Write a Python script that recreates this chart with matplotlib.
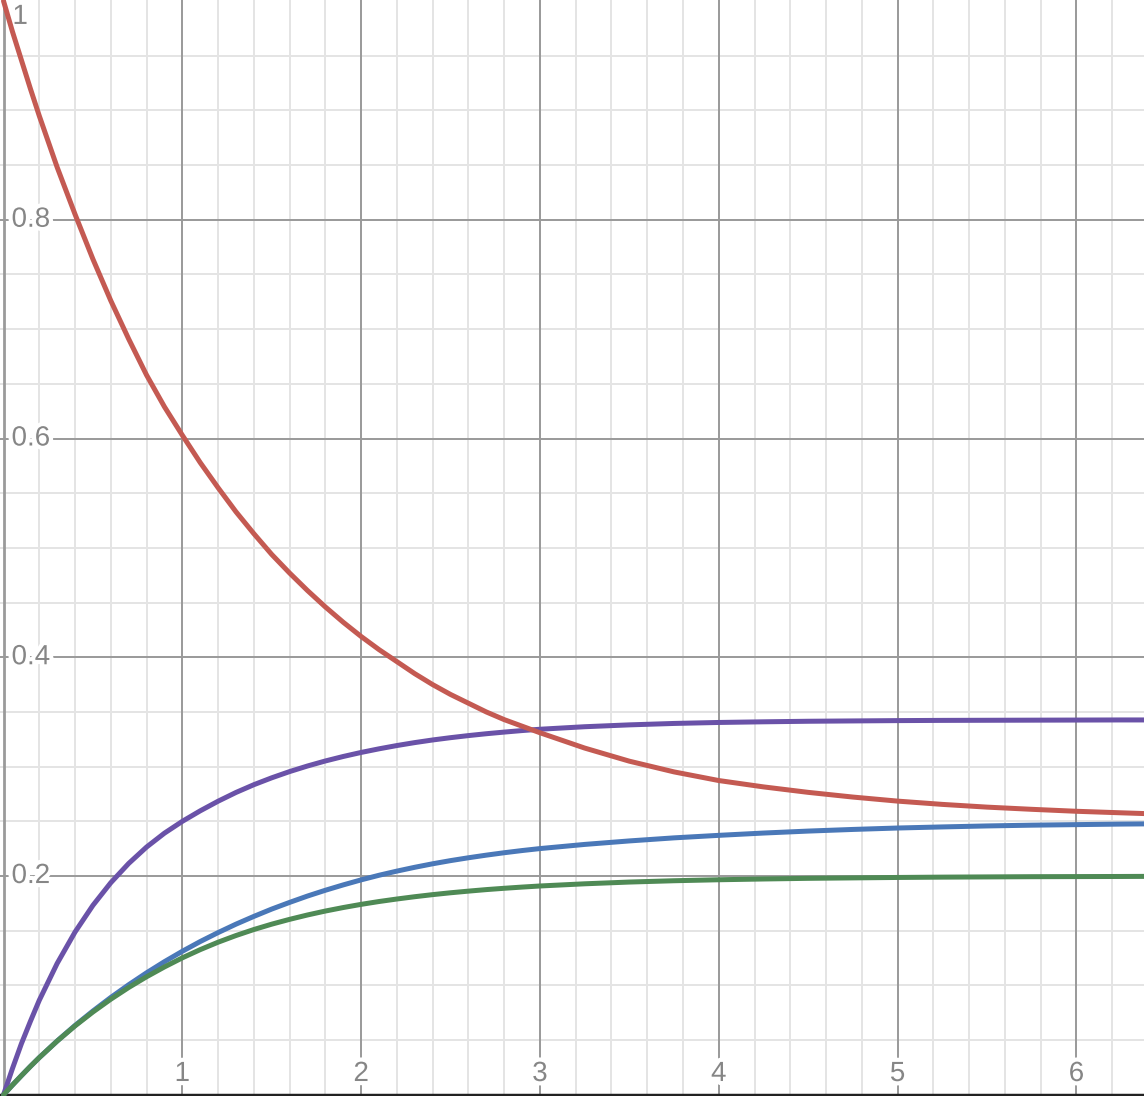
import numpy as np
import matplotlib.pyplot as plt
import matplotlib.patheffects as pe

# values
x_vals = [0.0, 0.05, 0.1, 0.15, 0.2, 0.3, 0.4, 0.5, 0.6, 0.7, 0.8, 0.9, 1.0,
          1.1, 1.2, 1.3, 1.4, 1.5, 1.6, 1.7, 1.8, 1.9, 2.0,
          2.1, 2.2, 2.3, 2.4, 2.5, 2.6, 2.7, 2.8, 2.9, 3.0,
          3.25, 3.5, 3.75, 4.0, 4.25, 4.5, 4.75, 5.0, 5.25, 5.5, 5.75, 6.0, 6.25, 6.4]
red_vals = [1.0, 0.972, 0.946, 0.920, 0.895, 0.848, 0.805, 0.764, 0.726, 0.691, 0.658, 0.629, 0.603,
            0.578, 0.555, 0.533, 0.513, 0.494, 0.477, 0.461, 0.446, 0.432, 0.419,
            0.407, 0.396, 0.385, 0.375, 0.366, 0.358, 0.350, 0.343, 0.337, 0.331,
            0.317, 0.305, 0.2952, 0.2873, 0.2815, 0.2765, 0.2722, 0.2685, 0.2655, 0.263, 0.261, 0.2592, 0.2578, 0.257]
purple_vals = [0.0, 0.024, 0.0467, 0.067, 0.0864, 0.1201, 0.1488, 0.1732, 0.1939, 0.2115, 0.2265, 0.2392, 0.250,
               0.2596, 0.2684, 0.2764, 0.2835, 0.2898, 0.2955, 0.3006, 0.3052, 0.3093, 0.313,
               0.3163, 0.3193, 0.322, 0.3244, 0.3265, 0.3284, 0.3301, 0.3316, 0.333, 0.3342,
               0.3365, 0.3382, 0.3395, 0.3404, 0.341, 0.3415, 0.3418, 0.3421, 0.3423, 0.3424, 0.3425, 0.3426, 0.3427, 0.3427]
blue_vals = [0.0, 0.0089, 0.0175, 0.0259, 0.034, 0.0492, 0.0634, 0.0766, 0.089, 0.1006, 0.1115, 0.1217, 0.1312,
             0.1401, 0.1483, 0.156, 0.1631, 0.1698, 0.1759, 0.1817, 0.187, 0.1919, 0.1965,
             0.2007, 0.2045, 0.208, 0.2112, 0.2141, 0.2167, 0.2191, 0.2213, 0.2233, 0.2251,
             0.2289, 0.2321, 0.2349, 0.2372, 0.2393, 0.2411, 0.2426, 0.2439, 0.2449, 0.2458, 0.2465, 0.247, 0.2475, 0.2477]
green_vals = [0.0, 0.0089, 0.0175, 0.0259, 0.034, 0.0491, 0.063, 0.0757, 0.0874, 0.0981, 0.1079, 0.1169, 0.1252,
              0.1327, 0.1395, 0.1456, 0.1511, 0.156, 0.1604, 0.1644, 0.168, 0.1712, 0.1741,
              0.1767, 0.179, 0.1811, 0.183, 0.1847, 0.1862, 0.1876, 0.1888, 0.1899, 0.1909,
              0.1929, 0.1945, 0.1957, 0.1966, 0.1973, 0.1979, 0.1983, 0.1987, 0.199, 0.1992, 0.1994, 0.1995, 0.1996, 0.1997]

x_ticks = [1, 2, 3, 4, 5, 6]
y_ticks = [0.2, 0.4, 0.6, 0.8]

plt.rcParams["font.family"] = ["Liberation Sans", "DejaVu Sans"]

fig = plt.figure(figsize=(11.44, 10.96), dpi=100)
ax = fig.add_axes([0, 0, 1, 1])
ax.set_xlim(-0.0196, 6.378)
ax.set_ylim(-0.0011, 1.0009)

# grid
for v in np.arange(0.2, 6.4, 0.2):
    ax.axvline(v, color="#e4e4e4", lw=1.4, zorder=0)
for v in np.arange(0.05, 1.0, 0.05):
    ax.axhline(v, color="#e4e4e4", lw=1.4, zorder=0)
for v in x_ticks:
    ax.axvline(v, color="#999999", lw=1.4, zorder=1)
for v in y_ticks:
    ax.axhline(v, color="#999999", lw=1.4, zorder=1)
ax.axhline(0, color="#222222", lw=2.5, zorder=2)
ax.axvline(0, color="#9a9a9a", lw=2.0, zorder=2)

ax.plot(x_vals, blue_vals, color="#4a78b8", lw=3.6, zorder=5, solid_capstyle="round")
ax.plot(x_vals, green_vals, color="#4f8a55", lw=3.6, zorder=6, solid_capstyle="round")
ax.plot(x_vals, purple_vals, color="#6a52a8", lw=3.6, zorder=5, solid_capstyle="round")
ax.plot(x_vals, red_vals, color="#c45a52", lw=3.6, zorder=5, solid_capstyle="round")

halo = [pe.withStroke(linewidth=6, foreground="white")]
for v in x_ticks:
    ax.text(v, 0.019, str(v), ha="center", va="center", fontsize=20,
            color="#868686", path_effects=halo, zorder=3)
for v in y_ticks:
    ax.text(0.045, v, "%.1f" % v, ha="left", va="center", fontsize=20,
            color="#868686", path_effects=halo, zorder=3)
ax.text(0.05, 0.9854, "1", ha="left", va="center", fontsize=20,
        color="#868686", path_effects=halo, zorder=3)

ax.set_xticks([])
ax.set_yticks([])
for s in ax.spines.values():
    s.set_visible(False)

fig.savefig("out.png", dpi=100)
